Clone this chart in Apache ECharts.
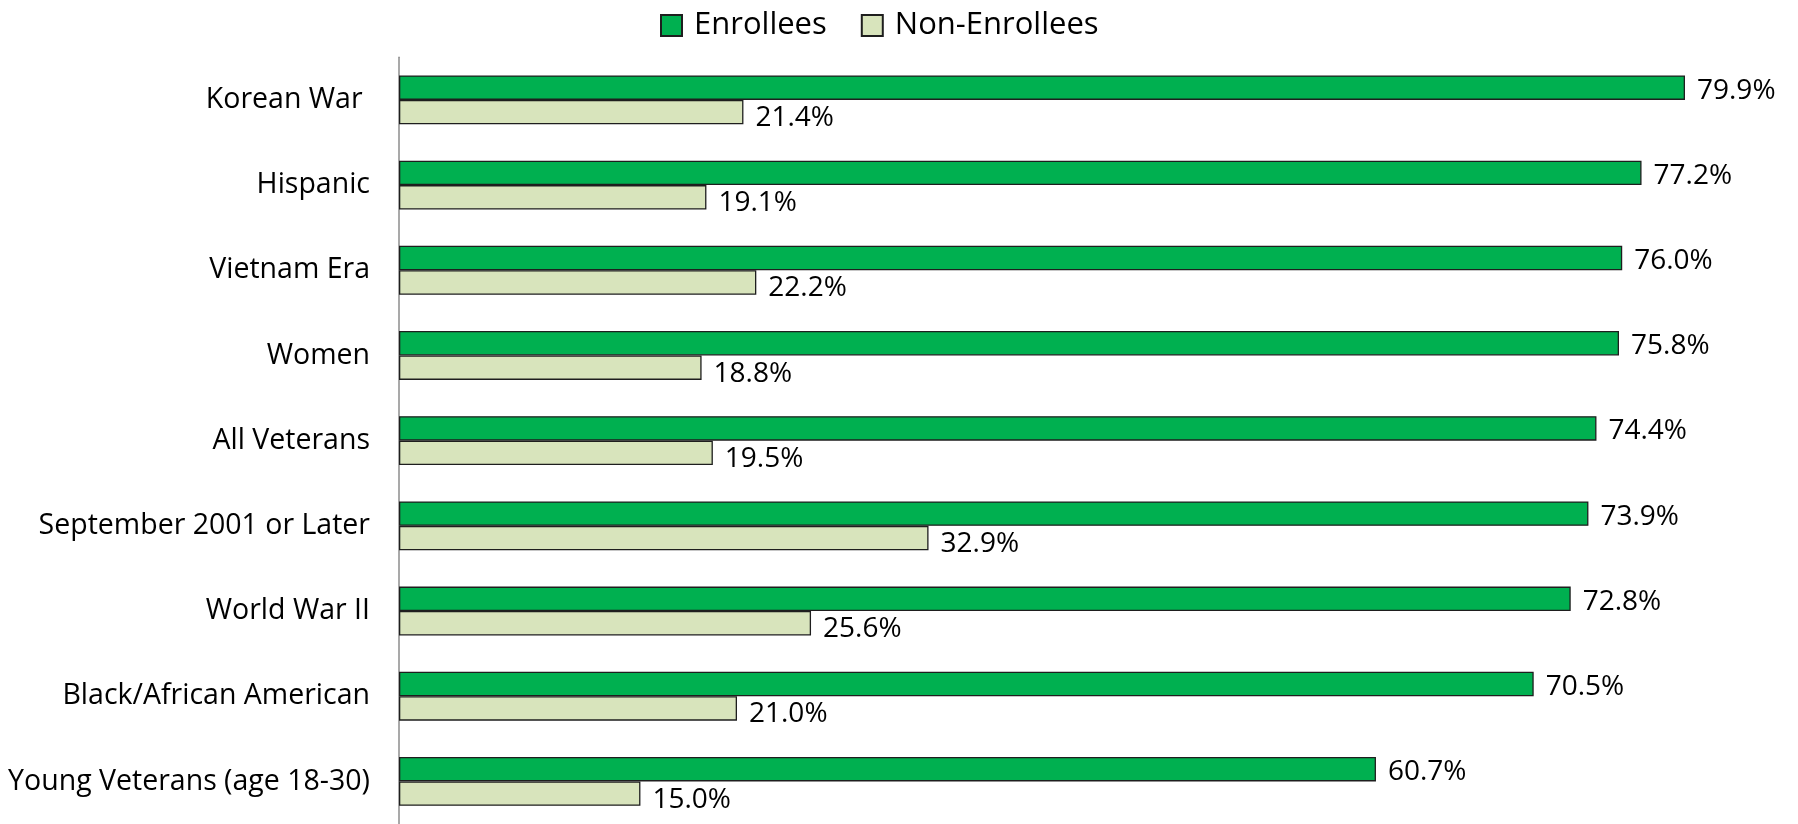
<!DOCTYPE html>
<html>
<head>
<meta charset="utf-8">
<script src="https://cdn.jsdelivr.net/npm/echarts@6/dist/echarts.min.js"></script>
<style>
html,body{margin:0;padding:0;background:#fff;}
#chart{width:1798px;height:824px;}
</style>
</head>
<body>
<div id="chart"></div>
<script>
const categories = ['Korean War ', 'Hispanic', 'Vietnam Era', 'Women', 'All Veterans', 'September 2001 or Later', 'World War II', 'Black/African American', 'Young Veterans (age 18-30)'];
const enrollees = [79.9, 77.2, 76.0, 75.8, 74.4, 73.9, 72.8, 70.5, 60.7];
const nonEnrollees = [21.4, 19.1, 22.2, 18.8, 19.5, 32.9, 25.6, 21.0, 15.0];
const seriesNames = ['Enrollees', 'Non-Enrollees'];

const FONT = 'Open Sans';
const chart = echarts.init(document.getElementById('chart'), null, {renderer: 'canvas'});
function labelCfg(dy) {
  return {
    show: true,
    position: 'right',
    distance: 12,
    offset: [0, dy],
    color: '#000',
    fontFamily: FONT,
    fontSize: 28,
    formatter: p => p.value.toFixed(1) + '%'
  };
}
chart.setOption({
  animation: false,
  backgroundColor: '#fff',
  legend: {
    left: 655,
    top: 5,
    itemWidth: 21,
    itemHeight: 21,
    itemGap: 34,
    icon: 'rect',
    textStyle: {fontFamily: FONT, fontSize: 31, color: '#000', padding: [0, 0, 0, 7]},
    data: seriesNames
  },
  grid: {left: 399, top: 57.3, width: 1287.6, height: 768.6},
  xAxis: {
    type: 'value', min: 0, max: 80,
    show: false
  },
  yAxis: {
    type: 'category',
    data: categories,
    inverse: true,
    axisLine: {show: true, lineStyle: {color: '#8c8c8c', width: 1.5}},
    axisTick: {show: false},
    axisLabel: {color: '#000', fontFamily: FONT, fontSize: 28.5, margin: 29},
    splitLine: {show: false}
  },
  series: [
    {
      name: seriesNames[0], type: 'bar', data: enrollees,
      barGap: '0%', barCategoryGap: '42.6%',
      itemStyle: {color: '#00B050', borderColor: '#1e1e1e', borderWidth: 1.3},
      label: labelCfg(3)
    },
    {
      name: seriesNames[1], type: 'bar', data: nonEnrollees,
      barGap: '0%', barCategoryGap: '42.6%',
      itemStyle: {color: '#D8E4BC', borderColor: '#1e1e1e', borderWidth: 1.3},
      label: labelCfg(6)
    }
  ]
});
</script>
</body>
</html>
